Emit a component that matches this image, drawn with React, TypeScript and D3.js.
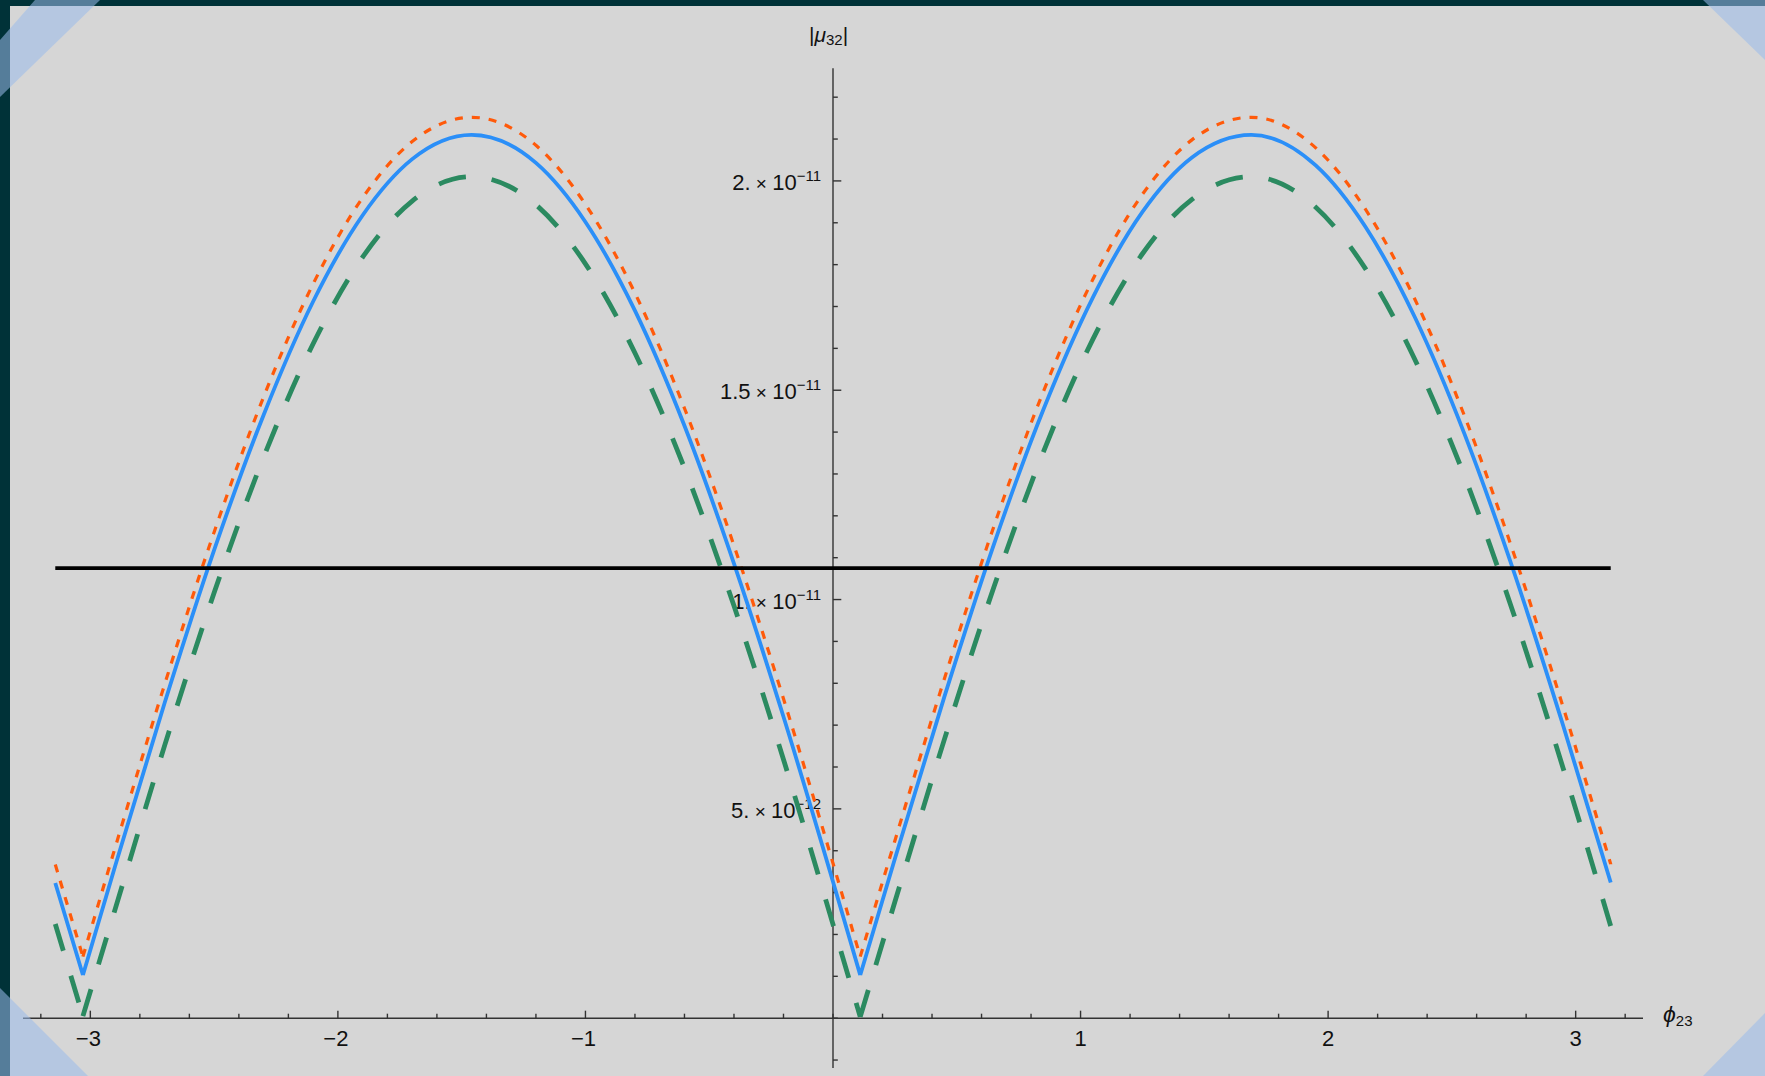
import React from 'react';
import * as d3 from 'd3';

// phi_23 sample points and |mu_32| values (units of 1e-12)
const phi = [-3.1416, -3.03, -2.9, -2.7, -2.5, -2.3, -2.1, -1.9, -1.7, -1.46, -1.2, -1.0, -0.8, -0.6, -0.4, -0.2, 0.0, 0.11,
  0.25, 0.45, 0.65, 0.85, 1.05, 1.25, 1.45, 1.69, 1.95, 2.15, 2.35, 2.55, 2.75, 2.95, 3.1416];
const muBlue = [3.23, 1.03, 3.63, 7.53, 11.18, 14.41, 17.12, 19.18, 20.52, 21.1, 20.43, 19.02, 16.9, 14.15, 10.86, 7.2, 3.26, 1.03,
  3.81, 7.68, 11.32, 14.54, 17.22, 19.26, 20.56, 21.1, 20.37, 18.91, 16.75, 13.97, 10.67, 6.98, 3.24];
const muOrange = [3.67, 1.47, 4.07, 7.97, 11.61, 14.84, 17.54, 19.6, 20.94, 21.52, 20.85, 19.44, 17.32, 14.57, 11.29, 7.63, 3.7, 1.47,
  4.24, 8.11, 11.75, 14.97, 17.65, 19.68, 20.98, 21.52, 20.79, 19.33, 17.18, 14.4, 11.1, 7.42, 3.68];
const muGreen = [2.25, 0.05, 2.6, 6.51, 10.16, 13.4, 16.11, 18.18, 19.52, 20.1, 19.43, 18.02, 15.89, 13.14, 9.85, 6.18, 2.24, 0.03,
  2.78, 6.66, 10.3, 13.53, 16.22, 18.26, 19.56, 20.1, 19.37, 17.91, 15.74, 12.96, 9.65, 5.96, 2.2];
const boundValue = 10.75;
const minimaIdx = [1, 17];

const xTickLabels = [-3, -2, -1, 1, 2, 3];
const yMajor = [5, 10, 15, 20];
const yMantissa = ['5.', '1.', '1.5', '2.'];
const yExponent = ['\u221212', '\u221211', '\u221211', '\u221211'];

const W = 1765;
const H = 1076;
const FONT = '"Liberation Sans", Arial, sans-serif';

const x = d3.scaleLinear().domain([-3.272, 3.272]).range([23, 1643]);
const y = d3.scaleLinear().domain([-1.19, 22.69]).range([1068, 68.3]);

const gen = d3.line<[number, number]>()
  .x(d => x(d[0]))
  .y(d => y(d[1]))
  .curve(d3.curveMonotoneX);

function seriesPath(vals: number[]) {
  const pts: [number, number][] = phi.map((p, i) => [p, vals[i]]);
  const cuts = [0, ...minimaIdx, pts.length - 1];
  let out = '';
  for (let k = 0; k < cuts.length - 1; k++) {
    out += gen(pts.slice(cuts[k], cuts[k + 1] + 1));
  }
  return out;
}

const App = () => {
  const x0 = x(0);
  const y0 = y(0);
  const xMinor = d3.range(-16, 17).map(i => i / 5);
  const yMinor = d3.range(-1, 23);

  return (
    <svg width={W} height={H} style={{ position: 'absolute', left: 0, top: 0 }}>
      <rect width={W} height={H} fill="#003238" />
      <rect x={10} y={6} width={W - 10} height={H - 6} fill="#d6d6d6" />

      {/* axes */}
      <g stroke="#333" strokeWidth={1.4}>
        <line x1={x.range()[0]} x2={x.range()[1]} y1={y0} y2={y0} />
        <line x1={x0} x2={x0} y1={y.range()[1]} y2={y.range()[0]} />
        {xMinor.map(v => (
          <line key={'xt' + v} x1={x(v)} x2={x(v)} y1={y0}
            y2={y0 - (Math.abs(v - Math.round(v)) < 1e-6 && v !== 0 ? 7.5 : 4.5)} />
        ))}
        {yMinor.map(v => (
          <line key={'yt' + v} x1={x0} x2={x0 + (v % 5 === 0 && v !== 0 ? 8.3 : 4.8)} y1={y(v)} y2={y(v)} />
        ))}
      </g>

      <g fontFamily={FONT} fill="#111">
        {xTickLabels.map(v => (
          <text key={'xl' + v} x={x(v) - (v < 0 ? 2 : 0)} y={1046} fontSize={22} textAnchor="middle">
            {v < 0 ? '\u2212' + Math.abs(v) : v}
          </text>
        ))}
        {yMajor.map((v, i) => (
          <text key={'yl' + v} x={821} y={y(v) + 9} fontSize={22} textAnchor="end">
            {yMantissa[i]}
            <tspan fontSize={19}> × </tspan>
            10
            <tspan fontSize={15} dy={-9}>{yExponent[i]}</tspan>
          </text>
        ))}
        <text x={809} y={42} fontSize={21}>
          |<tspan fontStyle="italic">μ</tspan>
          <tspan fontSize={15} dy={3}>32</tspan>
          <tspan dy={-3}>|</tspan>
        </text>
        <text x={1663} y={1022} fontSize={23}>
          <tspan fontStyle="italic">ϕ</tspan>
          <tspan fontSize={15} dy={4}>23</tspan>
        </text>
      </g>

      {/* curves */}
      <g fill="none" strokeLinejoin="round">
        <path d={seriesPath(muOrange)} stroke="#ff5a0a" strokeWidth={3.2} strokeDasharray="8,9" />
        <path d={seriesPath(muBlue)} stroke="#2b8ff8" strokeWidth={3.8} />
        <path d={seriesPath(muGreen)} stroke="#2b8a60" strokeWidth={4.8} strokeDasharray="28,26" />
        <line x1={x(phi[0])} x2={x(phi[phi.length - 1])} y1={y(boundValue)} y2={y(boundValue)}
          stroke="#000" strokeWidth={3.6} />
      </g>

      {/* corner tapes */}
      <g fill="rgb(155,188,235)" fillOpacity={0.55}>
        <polygon points="35,0 100,0 0,97 0,40" />
        <polygon points="1703,0 1765,0 1765,60" />
        <polygon points="0,988 88,1076 0,1076" />
        <polygon points="1703,1076 1765,1013 1765,1076" />
      </g>
    </svg>
  );
};

export default App;
